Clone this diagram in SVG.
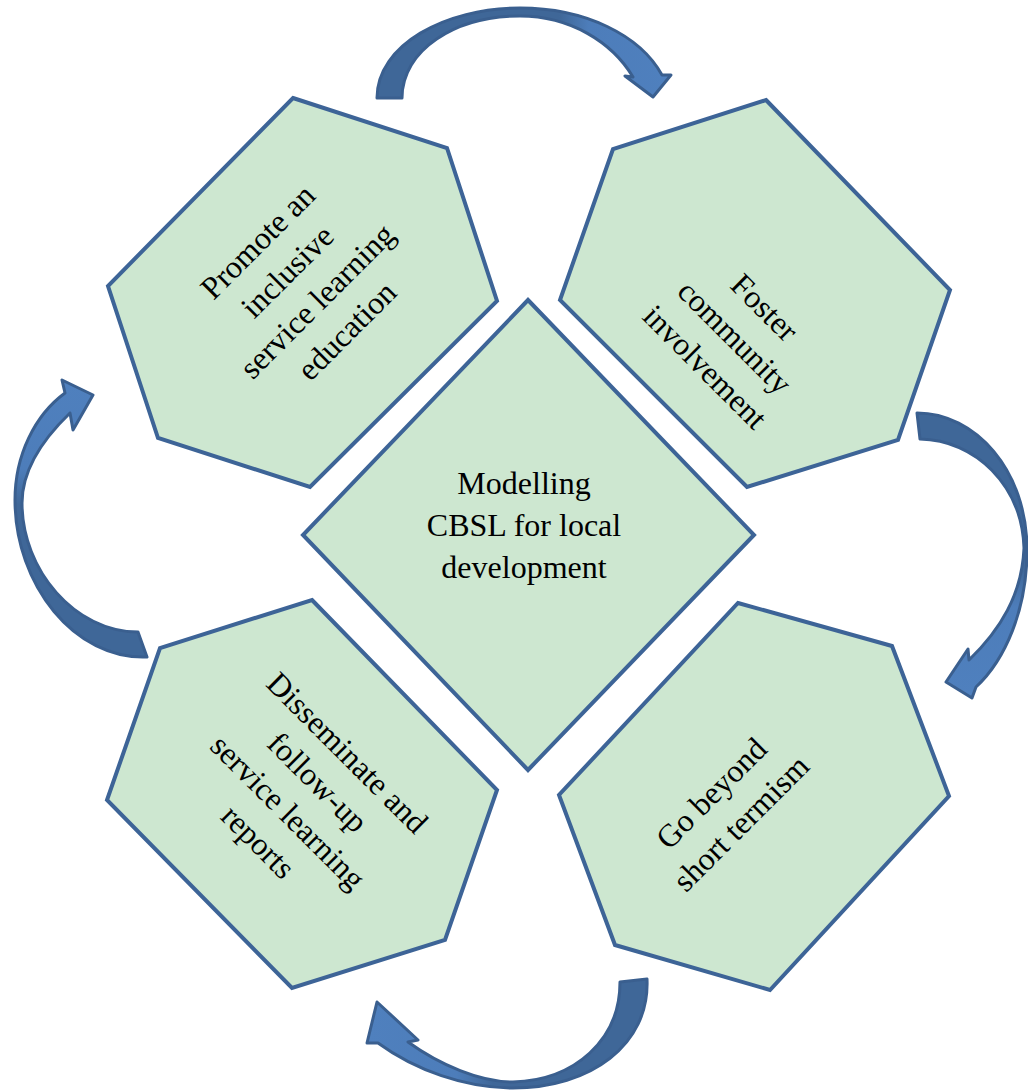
<svg xmlns="http://www.w3.org/2000/svg" width="1028" height="1092" viewBox="0 0 1028 1092">
<style>
.node{fill:#CDE7D0;stroke:#3D6497;stroke-width:4;stroke-linejoin:miter}
.lbl{font-family:"Liberation Serif","Times New Roman",serif;font-size:32px;fill:#000;text-anchor:middle}
.arr{stroke:#3A5F8F;stroke-width:3;stroke-linejoin:round}
</style>
<defs>
<linearGradient id="gTop" x1="377" y1="0" x2="671" y2="0" gradientUnits="userSpaceOnUse">
<stop offset="0" stop-color="#3F6798"/><stop offset="0.62" stop-color="#3F6798"/><stop offset="0.72" stop-color="#4D7DBA"/><stop offset="1" stop-color="#4F80BE"/>
</linearGradient>
<linearGradient id="gRight" x1="0" y1="413" x2="0" y2="698" gradientUnits="userSpaceOnUse">
<stop offset="0" stop-color="#3F6798"/><stop offset="0.55" stop-color="#3F6798"/><stop offset="0.68" stop-color="#4D7DBA"/><stop offset="1" stop-color="#4F80BE"/>
</linearGradient>
<linearGradient id="gLeft" x1="0" y1="657" x2="0" y2="380" gradientUnits="userSpaceOnUse">
<stop offset="0" stop-color="#3F6798"/><stop offset="0.55" stop-color="#3F6798"/><stop offset="0.68" stop-color="#4D7DBA"/><stop offset="1" stop-color="#4F80BE"/>
</linearGradient>
<linearGradient id="gBottom" x1="647" y1="0" x2="367" y2="0" gradientUnits="userSpaceOnUse">
<stop offset="0" stop-color="#3F6798"/><stop offset="0.55" stop-color="#3F6798"/><stop offset="0.68" stop-color="#4D7DBA"/><stop offset="1" stop-color="#4F80BE"/>
</linearGradient>
</defs>
<rect width="1028" height="1092" fill="#FFFFFF"/>

<g id="connectors">
<path id="arrow-top" class="arr" fill="url(#gTop)" d="M377,98 C377,45 445,8 520,8 C585,8 640,35 662,75 L671,75 L653,97 L625,76 L633,77 C612,42 570,16 520,16 C455,16 402,50 402,98 Z"/>
<path id="arrow-right" class="arr" fill="url(#gRight)" d="M917,413 C975,413 1027,470 1027,550 C1027,610 1005,660 976,687 L972,698 L946,682 L968,649 L969,660 C1000,630 1022,595 1024,548 C1022,485 975,440 920,439 Z"/>
<path id="arrow-bottom" class="arr" fill="url(#gBottom)" d="M647,979 C650,1045 590,1088 513,1088 C465,1088 415,1070 378,1043 L367,1043 L377,1002 L418,1040 L408,1042 C440,1065 480,1082 513,1082 C575,1080 620,1040 620,982 Z"/>
<path id="arrow-left" class="arr" fill="url(#gLeft)" d="M147,657 C75,660 15,585 15,500 C15,455 35,415 65,393 L62,380 L93,395 L73,430 L70,413 C42,440 22,470 22,503 C22,570 75,632 138,632 Z"/>
</g>

<g id="node-center">
<polygon class="node" points="528,300 754,535 528,770 303,535"/>
<text class="lbl" x="524" y="494">Modelling</text>
<text class="lbl" x="524" y="536">CBSL for local</text>
<text class="lbl" x="524" y="578">development</text>
</g>

<g id="node-promote">
<polygon class="node" points="293,98 447,148 497,301 310,487 158,438 108,286"/>
<g transform="translate(302,286) rotate(-45)">
<text class="lbl" x="0" y="-52">Promote an</text>
<text class="lbl" x="0" y="-10">inclusive</text>
<text class="lbl" x="0" y="32">service learning</text>
<text class="lbl" x="0" y="74">education</text>
</g>
</g>

<g id="node-foster">
<polygon class="node" points="766,100 950,290 898,440 747,487 560,300 613,149"/>
<g transform="translate(735,337) rotate(45)">
<text class="lbl" x="0" y="-31">Foster</text>
<text class="lbl" x="0" y="11">community</text>
<text class="lbl" x="0" y="53">involvement</text>
</g>
</g>

<g id="node-disseminate">
<polygon class="node" points="312,600 497,790 445,940 292,988 107,800 160,648"/>
<g transform="translate(303,797) rotate(45)">
<text class="lbl" x="0" y="-52">Disseminate and</text>
<text class="lbl" x="0" y="-10">follow-up</text>
<text class="lbl" x="0" y="32">service learning</text>
<text class="lbl" x="0" y="74">reports</text>
</g>
</g>

<g id="node-beyond">
<polygon class="node" points="738,603 892,646 949,796 770,990 615,945 559,795"/>
<g transform="translate(726,808) rotate(-45)">
<text class="lbl" x="0" y="-10">Go beyond</text>
<text class="lbl" x="0" y="32">short termism</text>
</g>
</g>
</svg>
